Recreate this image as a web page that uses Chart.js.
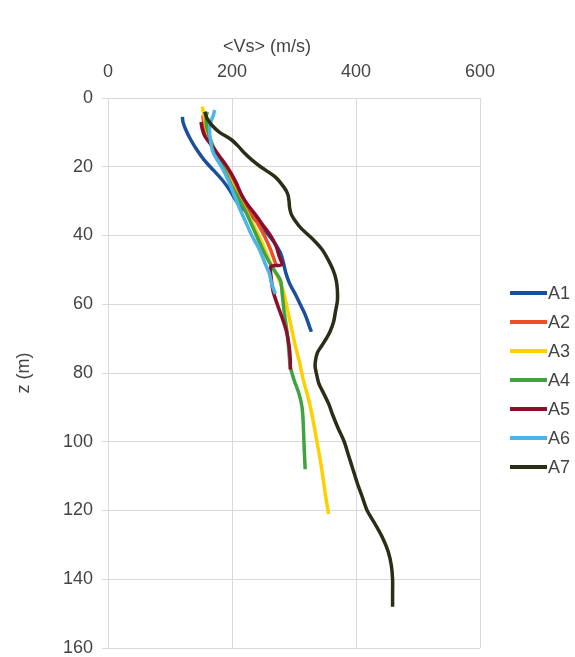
<!DOCTYPE html>
<html>
<head>
<meta charset="utf-8">
<script src="https://cdn.jsdelivr.net/npm/chart.js@4.4.0/dist/chart.umd.min.js"></script>
<style>
  html, body { margin: 0; padding: 0; background: #ffffff; }
  canvas { display: block; }
</style>
</head>
<body>
<canvas id="vsProfile" width="575" height="657"></canvas>
<script>
// Average shear-wave velocity profiles <Vs> (m/s) against depth z (m)
const seriesNames = ['A1', 'A2', 'A3', 'A4', 'A5', 'A6', 'A7'];
const seriesColors = ['#1B4F9C', '#F04E23', '#FFD000', '#3FA33F', '#8A0F2E', '#4DB4E6', '#2A2E17'];

const a1Depth = [5.5, 7, 9, 12, 15, 18, 21, 24, 27, 31, 35, 39, 42, 45, 48, 51, 54, 57, 60, 63, 66, 68];
const a1Vs    = [120, 121, 125, 133, 143, 155, 170, 185, 197, 211, 235, 255, 268, 278, 283, 287, 293, 302, 310, 318, 324, 328];

const a2Depth = [5, 8, 12, 16, 20, 24, 28, 32, 36, 40, 44, 47, 49];
const a2Vs    = [153, 155, 162, 175, 188, 200, 212, 226, 240, 252, 262, 268, 272];

const a3Depth = [2.5, 5, 8, 12, 16, 20, 24, 28, 32, 36, 40, 44, 48, 50, 53, 57, 62, 67, 72, 77, 82, 88, 94, 100, 106, 112, 117, 121];
const a3Vs    = [152, 155, 158, 164, 175, 186, 197, 208, 220, 232, 243, 253, 262, 268, 276, 284, 290, 296, 302, 309, 315, 324, 331, 337, 343, 348, 352, 356];

const a4Depth = [4, 6, 9, 13, 17, 21, 25, 29, 33, 37, 41, 45, 49, 53, 57, 62, 67, 72, 78, 82, 86, 90, 95, 100, 104, 108];
const a4Vs    = [160, 158, 160, 167, 177, 188, 198, 210, 222, 232, 242, 252, 264, 278, 281, 284, 288, 291, 294, 300, 308, 313, 315, 316, 317, 318];

const a5Depth = [7, 9, 11, 14, 17, 20, 24, 28, 31, 34, 37, 40, 43, 46, 48.5, 49, 52, 56, 60, 64, 68, 72, 76, 79];
const a5Vs    = [150, 152, 156, 168, 180, 192, 205, 215, 225, 238, 250, 262, 271, 276, 280, 263, 263, 266, 273, 281, 288, 292, 294, 294];

const a6Depth = [3.5, 5, 8, 12, 16, 20, 24, 28, 32, 36, 40, 44, 48, 51, 54, 57];
const a6Vs    = [172, 170, 164, 165, 170, 183, 194, 203, 212, 222, 232, 244, 253, 260, 264, 270];

const a7Depth = [4, 6, 8, 10, 12, 14, 16, 18, 20, 23, 26, 28, 30, 32, 34, 36, 38, 41, 44, 47, 50, 53, 56, 59, 62, 65, 68, 70, 72, 74, 76, 78, 80, 83, 86, 89, 92, 96, 100, 104, 108, 112, 116, 120, 124, 128, 132, 136, 140, 144, 148];
const a7Vs    = [156, 160, 168, 180, 198, 210, 220, 232, 246, 270, 284, 290, 292, 293, 296, 303, 312, 330, 345, 355, 363, 368, 370, 370, 367, 364, 358, 352, 345, 338, 335, 334, 336, 340, 348, 356, 362, 371, 381, 388, 395, 402, 410, 418, 431, 443, 452, 457, 459, 459, 459];

const vsTicks = { min: 0, max: 600, step: 200 };
const depthTicks = { min: 0, max: 160, step: 20 };
const vsTitle = '<Vs> (m/s)';
const depthTitle = 'z (m)';

const depths = [a1Depth, a2Depth, a3Depth, a4Depth, a5Depth, a6Depth, a7Depth];
const velocities = [a1Vs, a2Vs, a3Vs, a4Vs, a5Vs, a6Vs, a7Vs];

const FONT_FAMILY = "'Liberation Sans', Arial, sans-serif";
const TEXT_FONT = { family: FONT_FAMILY, size: 18 };
const TEXT_COLOR = '#444';
const GRID_COLOR = '#d9d9d9';
const PAD = { top: 30, left: 10, right: 95, bottom: 0 };
const AREA_LEFT = 108, AREA_TOP = 98, AREA_BOTTOM_GAP = 9;

const datasets = seriesNames.map((name, i) => ({
  label: name,
  data: depths[i].map((z, k) => ({ x: velocities[i][k], y: z })),
  borderColor: seriesColors[i],
  backgroundColor: seriesColors[i],
  borderWidth: 3.5,
  pointRadius: 0,
  pointHoverRadius: 0,
  showLine: true,
  tension: 0.3,
  fill: false,
  order: seriesNames.length - i   // later profiles are drawn over earlier ones
}));

// Series key on the right and the velocity axis caption
const profileKey = {
  id: 'profileKey',
  afterDraw(chart) {
    const ctx = chart.ctx;
    ctx.save();
    ctx.font = `${TEXT_FONT.size}px ${FONT_FAMILY}`;
    ctx.fillStyle = TEXT_COLOR;
    ctx.textBaseline = 'middle';
    ctx.textAlign = 'center';
    ctx.fillText(vsTitle, 267, 47);

    ctx.textAlign = 'left';
    ctx.lineWidth = 4;
    seriesNames.forEach((name, i) => {
      const y = 293 + i * 29;
      ctx.strokeStyle = seriesColors[i];
      ctx.beginPath();
      ctx.moveTo(510, y);
      ctx.lineTo(547, y);
      ctx.stroke();
      ctx.fillStyle = TEXT_COLOR;
      ctx.fillText(name, 548, y + 1);
    });
    ctx.restore();
  }
};

new Chart(document.getElementById('vsProfile'), {
  type: 'scatter',
  data: { datasets },
  plugins: [profileKey],
  options: {
    responsive: false,
    animation: false,
    layout: { padding: PAD },
    plugins: {
      tooltip: { enabled: false },
      legend: { display: false }
    },
    scales: {
      x: {
        type: 'linear',
        position: 'top',
        min: vsTicks.min,
        max: vsTicks.max,
        ticks: { stepSize: vsTicks.step, color: TEXT_COLOR, font: TEXT_FONT, padding: 15 },
        grid: { color: GRID_COLOR, drawTicks: false },
        border: { color: GRID_COLOR },
        title: { display: false },
        afterFit: s => { s.height = AREA_TOP - PAD.top; }
      },
      y: {
        type: 'linear',
        reverse: true,
        min: depthTicks.min,
        max: depthTicks.max,
        ticks: { stepSize: depthTicks.step, color: TEXT_COLOR, font: TEXT_FONT, padding: 9 },
        grid: { color: GRID_COLOR, tickLength: 6 },
        border: { color: GRID_COLOR },
        title: { display: true, text: depthTitle, color: TEXT_COLOR, font: TEXT_FONT, padding: { top: 3, bottom: 4 } },
        afterFit: s => {
          s.width = AREA_LEFT - PAD.left;
          s.paddingBottom = AREA_BOTTOM_GAP;
        }
      }
    }
  }
});
</script>
</body>
</html>
